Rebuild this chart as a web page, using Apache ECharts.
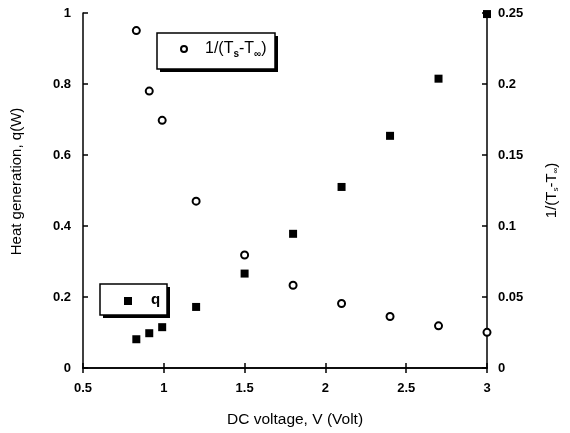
<!DOCTYPE html>
<html>
<head>
<meta charset="utf-8">
<script src="https://cdn.jsdelivr.net/npm/echarts@6/dist/echarts.min.js"></script>
<style>html,body{margin:0;padding:0;background:#fff;}#c{width:570px;height:433px;}</style>
</head>
<body>
<div id="c"></div>
<script>
var voltage = [0.83, 0.91, 0.99, 1.2, 1.5, 1.8, 2.1, 2.4, 2.7, 3.0];
var heatQ = [0.081, 0.098, 0.115, 0.172, 0.266, 0.378, 0.510, 0.654, 0.815, 0.997];
var invDT = [0.2376, 0.195, 0.1744, 0.1175, 0.0796, 0.0583, 0.0454, 0.0363, 0.0297, 0.0251];
var xTicks = ['0.5', '1', '1.5', '2', '2.5', '3'];
var leftTicks = ['0', '0.2', '0.4', '0.6', '0.8', '1'];
var rightTicks = ['0', '0.05', '0.1', '0.15', '0.2', '0.25'];

var FONT = '"Liberation Sans", Arial, sans-serif';
var chart = echarts.init(document.getElementById('c'), null, {renderer: 'canvas'});
var tickLabel = {color: '#000', fontFamily: FONT, fontSize: 13, fontWeight: 'bold'};
var line = {show: true, lineStyle: {color: '#000', width: 1.5}};
var ticks = {show: true, inside: true, length: 5, lineStyle: {color: '#000', width: 1.5}};

chart.setOption({
  animation: false,
  backgroundColor: '#fff',
  grid: {left: 83, right: 83, top: 13, bottom: 64, containLabel: false},
  xAxis: [{
    type: 'value', min: 0.5, max: 3, interval: 0.5, position: 'bottom',
    axisLine: line, axisTick: ticks, splitLine: {show: false},
    axisLabel: Object.assign({margin: 14, formatter: function (v) { return xTicks[Math.round((v - 0.5) / 0.5)]; }}, tickLabel),
    name: 'DC voltage, V (Volt)', nameLocation: 'middle', nameGap: 44,
    nameTextStyle: {color: '#000', fontFamily: FONT, fontSize: 15.5, padding: [0, 0, 0, 20]}
  }, {
    type: 'value', min: 0.5, max: 3, interval: 0.5, position: 'top',
    axisLine: line, axisTick: ticks, splitLine: {show: false}, axisLabel: {show: false}
  }],
  yAxis: [{
    type: 'value', min: 0, max: 1, interval: 0.2, position: 'left',
    axisLine: line, axisTick: ticks, splitLine: {show: false},
    axisLabel: Object.assign({margin: 12, formatter: function (v) { return leftTicks[Math.round(v / 0.2)]; }}, tickLabel),
    name: 'Heat generation, q(W)', nameLocation: 'middle', nameGap: 59, nameRotate: 90,
    nameTextStyle: {color: '#000', fontFamily: FONT, fontSize: 15, padding: [0, 0, 0, 18]}
  }, {
    type: 'value', min: 0, max: 0.25, interval: 0.05, position: 'right',
    axisLine: line, axisTick: ticks, splitLine: {show: false},
    axisLabel: Object.assign({margin: 11, formatter: function (v) { return rightTicks[Math.round(v / 0.05)]; }}, tickLabel),
    name: '1/(T{s|s}-T{s|∞})', nameLocation: 'middle', nameGap: 56, nameRotate: 90,
    nameTextStyle: {color: '#000', fontFamily: FONT, fontSize: 15,
      rich: {s: {fontSize: 8, color: '#000', fontFamily: FONT, padding: [9, 0, 0, 0]}}}
  }],
  series: [{
    name: 'q', type: 'scatter', xAxisIndex: 0, yAxisIndex: 0,
    symbol: 'rect', symbolSize: 8, itemStyle: {color: '#000', opacity: 1},
    data: voltage.map(function (v, i) { return [v, heatQ[i]]; }),
    z: 3
  }, {
    name: '1/(Ts-T∞)', type: 'scatter', xAxisIndex: 0, yAxisIndex: 1,
    symbol: 'circle', symbolSize: 7,
    itemStyle: {color: '#fff', borderColor: '#000', borderWidth: 2, opacity: 1},
    data: voltage.map(function (v, i) { return [v, invDT[i]]; }),
    z: 4
  }],
  graphic: [
    {type: 'rect', shape: {x: 160, y: 36, width: 118, height: 36}, style: {fill: '#000'}, z: 10},
    {type: 'rect', shape: {x: 157, y: 33, width: 118, height: 36}, style: {fill: '#fff', stroke: '#000', lineWidth: 1.5}, z: 11},
    {type: 'circle', shape: {cx: 184, cy: 49, r: 3}, style: {fill: '#fff', stroke: '#000', lineWidth: 2}, z: 12},
    {type: 'text', x: 205, y: 49, z: 12, style: {
      text: '1/(T{s|s}-T{s|∞})', fill: '#000', font: '16px ' + FONT, verticalAlign: 'middle',
      rich: {s: {fontSize: 10, fontWeight: 'bold', fill: '#000', padding: [11, 0, 0, 0]}}}},
    {type: 'rect', shape: {x: 103, y: 287, width: 67, height: 31}, style: {fill: '#000'}, z: 10},
    {type: 'rect', shape: {x: 100, y: 284, width: 67, height: 31}, style: {fill: '#fff', stroke: '#000', lineWidth: 1.5}, z: 11},
    {type: 'rect', shape: {x: 124, y: 297, width: 8, height: 8}, style: {fill: '#000'}, z: 12},
    {type: 'text', x: 151, y: 300, z: 12, style: {text: 'q', fill: '#000', font: 'bold 15px ' + FONT, verticalAlign: 'middle'}}
  ]
});
</script>
</body>
</html>
